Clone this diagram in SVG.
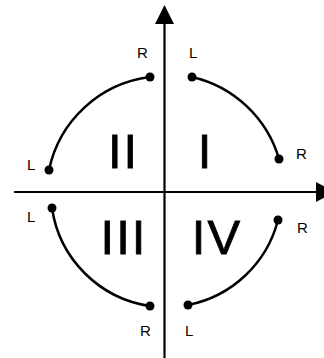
<svg xmlns="http://www.w3.org/2000/svg" width="324" height="358" viewBox="0 0 324 358">
<style>
.ax{stroke:#000;stroke-width:2.2;fill:none}
.arc{stroke:#000;stroke-width:2.5;fill:none}
.dot{fill:#000}
.lbl{font-family:"Liberation Sans",Arial,sans-serif;font-size:15px;fill:#000}
.num{font-family:"Liberation Sans",Arial,sans-serif;font-size:49px;fill:#000;stroke:#000;stroke-width:0.8;text-anchor:middle;letter-spacing:2px}
</style>
<rect width="324" height="358" fill="#fff"/>
<g id="connectors">
<line class="ax" x1="164.5" y1="20" x2="164.5" y2="358"/>
<polygon points="164.5,5 155,24 174,24" fill="#000"/>
<line class="ax" x1="14" y1="192" x2="320" y2="192"/>
<polygon points="335,192 316,182 316,202" fill="#000"/>
</g>
<g id="quadrant-I">
<path class="arc" d="M192,77 A118,118 0 0 1 279,159"/>
<circle class="dot" cx="192" cy="77" r="4.5"/>
<circle class="dot" cx="279" cy="159" r="4.5"/>
<text class="lbl" x="189" y="58">L</text>
<text class="lbl" x="296" y="159">R</text>
<text class="num" x="205.5" y="168">I</text>
</g>
<g id="quadrant-II">
<path class="arc" d="M49,170 A118,118 0 0 1 150,77"/>
<circle class="dot" cx="49" cy="170" r="4.5"/>
<circle class="dot" cx="150" cy="77" r="4.5"/>
<text class="lbl" x="137" y="58">R</text>
<text class="lbl" x="27" y="170">L</text>
<text class="num" x="123.5" y="168">II</text>
</g>
<g id="quadrant-III">
<path class="arc" d="M52,208 A116,116 0 0 0 150,306"/>
<circle class="dot" cx="52" cy="208" r="4.5"/>
<circle class="dot" cx="150" cy="306" r="4.5"/>
<text class="lbl" x="27" y="222">L</text>
<text class="lbl" x="140" y="336">R</text>
<text class="num" x="124" y="254">III</text>
</g>
<g id="quadrant-IV">
<path class="arc" d="M188,305 A116,116 0 0 0 278,220"/>
<circle class="dot" cx="188" cy="305" r="4.5"/>
<circle class="dot" cx="278" cy="220" r="4.5"/>
<text class="lbl" x="185" y="336">L</text>
<text class="lbl" x="297" y="233">R</text>
<text class="num" x="217" y="254">IV</text>
</g>
</svg>
